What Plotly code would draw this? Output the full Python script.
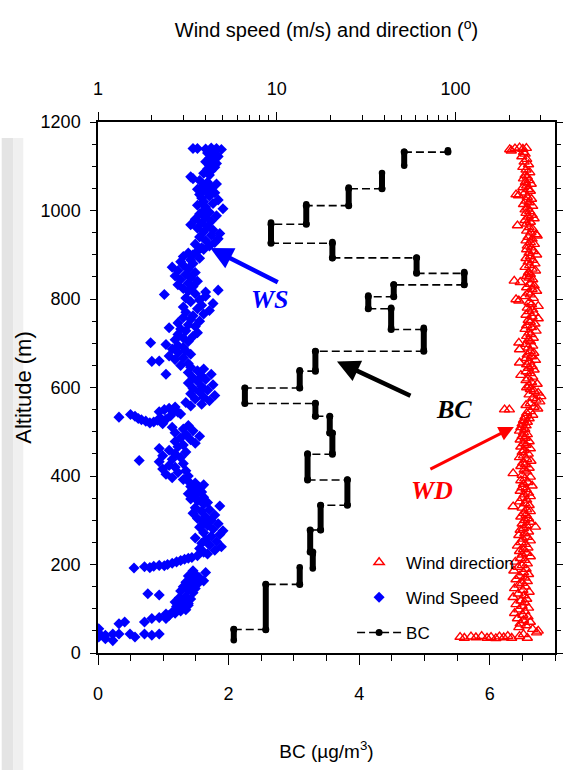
import math
import plotly.graph_objects as go

SANS = "Liberation Sans, Arial, sans-serif"
SERIF = "Liberation Serif, Times New Roman, serif"

# ---------------- BC (bottom axis, ug/m3) ----------------
bc_level = [5.36, 4.69, 4.35, 3.84, 3.19, 2.65, 3.59, 4.88, 5.61, 4.53, 4.14, 4.49, 4.99, 3.33,
            3.09, 2.25, 3.33, 3.55, 3.59, 3.21, 3.82, 3.41, 3.25, 3.29, 3.09, 2.57, 2.08]
bc_alt_low = [1133, 1101, 1050, 1012, 970, 928, 892, 860, 832, 806, 779, 735, 685, 640,
              599, 565, 535, 497, 452, 393, 335, 278, 229, 191, 156, 52, 29]
bc_alt_high = [1136, 1133, 1085, 1052, 1014, 973, 929, 893, 861, 833, 808, 780, 735, 682,
               639, 599, 565, 534, 497, 451, 392, 334, 277, 224, 194, 156, 54]
# altitude of the dashed link between level i and level i+1 (None = no link)
bc_link_alt = [1132, None, 1049, 1011, 969, 926, 893, 858, 832, 805, 778, 731, 682, 637,
               599, 564, 535, 497, 449, 391, 334, 278, 228, None, 155, 53]

# ---------------- Wind speed (top log axis, m/s) ----------------
ws_alt = [55, 36, 45, 40, 32, 43, 28, 66, 43, 70, 43, 36, 43, 70, 40, 78, 43, 80, 78,
          85, 90, 95, 98, 88, 92, 100, 104, 108,
          105, 110, 112, 115, 118, 122, 125, 128, 131, 134, 136, 140, 143, 146, 150, 153, 156, 160,
          163, 166, 170, 174, 178, 182, 186,
          192, 195, 193, 196, 198, 197, 200, 203, 206, 209, 212, 214, 216,
          220, 224, 228, 232, 236, 240, 244, 248, 252, 256, 260, 264, 268, 272, 276, 280, 284, 288,
          292, 296, 300, 304, 308, 312, 316, 320, 324, 328, 332, 336, 340, 344, 348, 352, 356, 360,
          364, 368, 372, 376, 380, 384, 388,
          392, 396, 400, 404, 408, 412, 416, 420, 424, 428, 432, 435, 438, 442, 446, 450, 454, 458,
          462, 466,
          470, 474, 478, 482, 486, 490, 494, 498, 502, 506, 510, 514,
          533, 539, 535, 530, 527, 524, 520, 522, 526, 530, 518, 528, 545, 550, 553, 548, 544, 540,
          536, 556,
          558, 562, 566, 570, 574, 578, 582, 586, 590, 594, 598, 602, 606, 610, 614, 618, 622, 626,
          630, 634, 638, 642, 646,
          630, 650, 654, 659, 660, 663, 667, 671, 675, 679, 683, 687, 691, 695, 697, 701, 704, 708,
          712, 716, 720, 724, 728, 732, 735, 738, 742, 746, 750, 754, 758,
          762, 766, 770, 774, 778, 782, 786, 790, 794, 798, 802, 806, 810, 812, 816, 818, 820,
          824, 828, 832, 836, 840, 844, 848, 852, 856, 860, 864, 868, 872, 876, 880, 884, 888, 892,
          896, 900, 904, 908, 912,
          916, 920, 924, 928, 932, 936, 940, 944, 948, 952, 956, 960, 964, 968, 972, 976, 980, 984,
          988, 992, 996, 1000, 1004,
          1008, 1012, 1016, 1020, 1024, 1028, 1032, 1036, 1040, 1044, 1048, 1052, 1056, 1060, 1064,
          1068, 1072, 1076, 1080, 1084,
          1090, 1094, 1098, 1102, 1106, 1110, 1114, 1118, 1122, 1126, 1130, 1134,
          1140, 1140, 1139, 1141, 1140, 1138]
ws_val = [1.01, 1.01, 1.01, 1.10, 1.10, 1.21, 1.21, 1.31, 1.31, 1.41, 1.51, 1.61, 1.82, 1.82, 2.00,
          2.00, 2.20, 2.20, 2.40,
          2.5, 2.7, 2.9, 3.1, 2.4, 2.6, 2.8, 3.0, 3.2,
          2.75, 2.9, 3.2, 2.7, 3.0, 3.3, 2.85, 3.1, 2.2, 1.9, 3.4, 2.9, 3.2, 3.5, 3.0, 3.3, 3.6, 3.1,
          3.9, 3.4, 3.7, 3.2, 3.5, 4.0, 3.4,
          1.59, 1.82, 1.95, 2.05, 2.2, 2.35, 2.45, 2.6, 2.75, 2.9, 3.05, 3.2, 3.35,
          3.6, 4.1, 3.9, 4.5, 3.7, 4.9, 4.2, 3.8, 4.6, 4.0, 3.5, 4.3, 4.8, 3.9, 5.0, 4.4, 3.7, 4.1,
          4.7, 3.9, 4.3, 3.6, 4.0, 4.5, 3.4, 3.8, 4.2, 3.5, 4.8, 3.9, 4.1, 3.6, 3.3, 3.9, 3.5, 3.2,
          3.8, 3.4, 3.7, 3.3, 3.9, 3.5, 3.2,
          3.0, 2.6, 3.2, 2.4, 2.8, 3.1, 2.3, 2.7, 2.5, 3.0, 2.2, 1.70, 2.6, 2.9, 2.3, 2.7, 3.1, 2.5,
          2.2, 2.8,
          3.0, 3.5, 2.7, 3.3, 2.9, 3.7, 3.1, 2.7, 3.4, 3.0, 2.6, 3.2,
          1.31, 1.52, 1.61, 1.68, 1.75, 1.85, 1.95, 2.05, 2.15, 2.25, 2.3, 2.4, 2.2, 2.35, 2.5, 2.65,
          2.8, 2.9, 2.55, 2.7,
          3.3, 3.8, 3.1, 4.2, 3.5, 3.9, 4.5, 3.3, 3.7, 4.1, 3.4, 3.8, 4.4, 3.2, 3.6, 4.0, 3.4, 3.8,
          4.3, 3.2, 3.6, 3.9, 3.3,
          2.4, 2.9, 3.2, 2.0, 2.2, 2.7, 3.0, 2.5, 3.3, 2.8, 3.1, 2.6, 3.0, 2.8, 2.4, 1.97, 3.2, 2.7,
          3.0, 3.4, 2.8, 3.6, 3.1, 2.9, 2.5, 3.5, 3.2, 2.8, 3.7, 3.3, 3.0,
          3.4, 3.9, 3.1, 4.2, 3.6, 3.0, 3.8, 4.4, 3.3, 3.7, 3.1, 4.0, 2.35, 3.5, 4.0, 3.2, 4.7,
          3.0, 3.4, 2.8, 3.2, 3.6, 2.9, 3.3, 2.7, 3.1, 3.5, 2.8, 3.2, 2.6, 3.0, 3.4, 2.9, 3.3, 3.7,
          3.0, 3.4, 3.2, 3.6, 3.9,
          3.8, 4.2, 3.5, 4.5, 4.0, 4.7, 3.7, 4.3, 4.8, 3.9, 4.4, 3.6, 4.1, 3.3, 3.8, 4.3, 3.5, 4.0,
          4.6, 3.7, 4.2, 3.9, 5.0,
          4.0, 3.6, 4.4, 3.9, 4.7, 3.8, 4.2, 3.7, 4.5, 4.0, 3.6, 4.3, 3.9, 4.6, 4.1,
          3.7, 3.4, 3.3, 4.2, 3.9,
          4.3, 4.1, 4.5, 4.2, 4.6, 4.0, 4.4, 4.2, 4.7, 4.3, 4.1, 4.5,
          3.4, 3.6, 4.0, 4.3, 4.6, 4.9]

# ---------------- Wind direction (top log axis, degrees) ----------------
wd_alt = [1138, 1140, 1142, 1139, 1141, 1135, 1132,
          1128, 1122, 1116, 1110, 1104, 1098, 1092, 1086, 1080,
          1076, 1072, 1068, 1064, 1060, 1056, 1052, 1048, 1044, 1040, 1036, 1034, 1030, 1026, 1022,
          1018, 1014, 1010, 1006, 1002,
          998, 994, 990, 986, 982, 978, 974, 970, 966, 962, 958, 954, 950, 946, 943, 940, 936, 932,
          928, 924, 920,
          916, 912, 908, 904, 900, 896, 892, 888, 884, 880, 876, 872, 868, 864, 860, 856, 852,
          848, 844, 841, 838, 834, 830, 826, 822, 818, 814, 810, 806, 802, 799, 796, 792, 788, 784,
          780, 776,
          772, 768, 764, 760, 756, 752, 748, 744, 740, 736, 732, 728, 724, 720, 716, 712, 708, 704,
          701, 698, 694, 690, 686, 682, 678, 674, 670, 666, 662, 658, 656, 652, 648, 644, 640, 636,
          632, 628, 624, 620, 616, 612, 608, 604, 600,
          596, 592, 588, 584, 580, 576, 572, 568, 564, 560, 556, 552, 550, 550, 546, 542, 538, 534,
          530, 526, 522, 518, 514, 510, 506, 502, 498,
          494, 490, 486, 482, 478, 474, 470, 466, 462, 458, 454, 450, 446, 442, 438, 434, 430, 426,
          422, 418, 414, 410, 406, 402, 398, 394, 390, 386, 382, 378, 374, 370, 366, 362, 358, 354,
          350, 346, 342, 338, 334, 331, 328, 324, 320, 316, 312, 308, 304, 300, 296, 292, 288, 285,
          282, 278, 274, 270, 266, 262, 258, 254, 250, 246, 242, 238, 234, 230, 226, 222, 218, 214,
          210, 206, 202, 198, 194, 190, 186, 182, 178, 174, 170, 166, 162, 158, 154, 150, 146, 142,
          138, 134, 130, 126, 122, 118, 114, 110, 106, 102, 98, 94, 90, 86, 82, 78, 74, 70, 66, 62,
          58, 54, 50, 46, 42, 38, 34,
          36, 34, 37, 35, 38, 34, 36, 33, 37, 35, 38, 34]
wd_val = [201, 215, 228, 238, 249, 205, 240,
          245, 235, 250, 242, 256, 238, 248, 260, 245,
          252, 240, 258, 246, 265, 250, 238, 255, 262, 244, 218, 225, 252, 266, 248,
          258, 240, 270, 253, 245,
          260, 248, 268, 255, 275, 245, 262, 250, 222, 258, 270, 250, 264, 282, 286, 255, 268, 248,
          262, 276, 252,
          265, 250, 272, 258, 284, 262, 248, 270, 255, 278, 260, 245, 268, 280, 256, 262, 250,
          258, 270, 213, 230, 262, 275, 250, 268, 284, 255, 262, 245, 272, 218, 226, 258, 266, 290,
          252, 270,
          258, 275, 248, 268, 290, 255, 262, 278, 250, 266, 245, 282, 258, 264, 250, 272, 256, 262,
          226, 248, 270, 255, 228, 262, 274, 252, 266, 248, 280, 260, 228, 250, 268, 256, 275, 248,
          262, 232, 270, 254, 248, 266, 286, 258, 250,
          262, 275, 290, 258, 300, 270, 282, 296, 262, 248, 275, 288, 188, 200, 262, 250, 270, 245,
          258, 240, 252, 236, 248, 232, 244, 228, 240,
          252, 236, 245, 230, 258, 240, 248, 232, 262, 242, 236, 255, 240, 228, 250, 264, 238, 246,
          232, 258, 242, 250, 210, 236, 262, 244, 232, 254, 240, 268, 236, 248, 230, 256, 242, 262,
          236, 250, 228, 244, 258, 210, 236, 250, 262, 240, 248, 232, 256, 244, 262, 236, 250, 280,
          240, 230, 256, 244, 226, 252, 238, 262, 232, 246, 222, 254, 240, 228, 250, 236, 262, 230,
          244, 216, 252, 236, 224, 248, 212, 240, 256, 228, 244, 218, 252, 236, 226, 246, 214, 238,
          258, 224, 242, 210, 250, 232, 244, 218, 236, 256, 226, 244, 214, 238, 254, 222, 240, 262,
          230, 248, 226, 270, 290, 284, 240, 228, 252,
          106, 112, 122, 130, 140, 150, 158, 168, 176, 186, 196, 206]

# ---------------- tick labels ----------------
bc_ticks = [0, 2, 4, 6]
wind_ticks = [1, 10, 100]
wind_tick_text = ["1", "10", "100"]
wind_minor = [2, 3, 4, 5, 6, 7, 8, 9, 20, 30, 40, 50, 60, 70, 80, 90, 200, 300]
alt_ticks = [0, 200, 400, 600, 800, 1000, 1200]

# ---------------- build BC geometry from the data ----------------
bar_x, bar_y = [], []
for v, lo, hi in zip(bc_level, bc_alt_low, bc_alt_high):
    bar_x += [v, v, None]
    bar_y += [lo, hi, None]
link_x, link_y = [], []
for i, a in enumerate(bc_link_alt):
    if a is None:
        continue
    link_x += [bc_level[i], bc_level[i + 1], None]
    link_y += [a, a, None]

fig = go.Figure()

fig.add_trace(go.Scatter(
    x=wd_val, y=wd_alt, xaxis="x2", yaxis="y", mode="markers", name="Wind direction",
    legendgroup="g1",
    marker=dict(symbol="triangle-up-open", size=9, color="#ff0000", line=dict(width=1.4, color="#ff0000")),
))
fig.add_trace(go.Scatter(
    x=ws_val, y=ws_alt, xaxis="x2", yaxis="y", mode="markers", name="Wind Speed",
    legendgroup="g2",
    marker=dict(symbol="diamond", size=8.5, color="#0000ff", line=dict(width=0)),
))
fig.add_trace(go.Scatter(
    x=link_x, y=link_y, mode="lines+markers", name="BC", legendgroup="g3",
    line=dict(color="black", width=1.6, dash="8px,4px"),
    marker=dict(symbol="circle", size=7, color="black"),
))
fig.add_trace(go.Scatter(
    x=bar_x, y=bar_y, mode="lines+markers", showlegend=False, hoverinfo="skip",
    line=dict(color="black", width=6),
    marker=dict(symbol="circle", size=6.5, color="black"),
))

axis_common = dict(showgrid=False, zeroline=False, showline=True, linecolor="black",
                   linewidth=1.5, ticks="outside", tickcolor="black", tickwidth=1.3,
                   tickfont=dict(family=SANS, size=18, color="black"))

fig.update_layout(
    width=567, height=770,
    margin=dict(l=98, r=4, t=122, b=117),
    paper_bgcolor="white", plot_bgcolor="white",
    font=dict(family=SANS, size=18, color="black"),
    xaxis=dict(**axis_common, range=[0, 7], tickvals=bc_ticks, ticklen=10,
               ticklabelstandoff=14,
               minor=dict(dtick=0.5, ticks="outside", ticklen=6, tickcolor="black", tickwidth=1.3,
                          showgrid=False),
               title=dict(text="BC (\u00b5g/m<sup>3</sup>)", standoff=41,
                          font=dict(family=SANS, size=19, color="black"))),
    xaxis2=dict(**axis_common, type="log", range=[0, math.log10(360)], overlaying="x",
                side="top", anchor="y", tickvals=wind_ticks, ticktext=wind_tick_text,
                ticklen=8, ticklabelstandoff=10,
                minor=dict(tickvals=wind_minor, ticks="outside", ticklen=5, tickcolor="black",
                           tickwidth=1.3, showgrid=False),
                title=dict(text="Wind speed (m/s) and direction (<sup>o</sup>)", standoff=36,
                           font=dict(family=SANS, size=20, color="black"))),
    yaxis=dict(**axis_common, range=[0, 1200], tickvals=alt_ticks, ticklen=6, mirror="ticks",
               ticklabelstandoff=6,
               minor=dict(dtick=50, ticks="outside", ticklen=4, tickcolor="black", tickwidth=1.3,
                          showgrid=False),
               title=dict(text="Altitude (m)", standoff=3,
                          font=dict(family=SANS, size=22, color="black"))),
    legend=dict(x=0.556, y=0.204, xanchor="left", yanchor="top", bgcolor="rgba(0,0,0,0)",
                font=dict(family=SANS, size=17, color="black"), itemwidth=44,
                tracegroupgap=10),
    showlegend=True,
)

# arrows and labels
fig.add_annotation(x=1.72, y=915, ax=69, ay=35, xref="x", yref="y", text="", showarrow=True,
                   arrowhead=2, arrowsize=1, arrowwidth=4.5, arrowcolor="#0000ff")
fig.add_annotation(x=2.64, y=799, xref="x", yref="y", text="<b><i>WS</i></b>", showarrow=False,
                   font=dict(family=SERIF, size=26, color="#0000ff"))
fig.add_annotation(x=3.66, y=659, ax=75, ay=35, xref="x", yref="y", text="", showarrow=True,
                   arrowhead=2, arrowsize=1, arrowwidth=4.5, arrowcolor="black")
fig.add_annotation(x=5.46, y=550, xref="x", yref="y", text="<b><i>BC</i></b>", showarrow=False,
                   font=dict(family=SERIF, size=26, color="black"))
fig.add_annotation(x=6.37, y=511, ax=-85, ay=43, xref="x", yref="y", text="", showarrow=True,
                   arrowhead=2, arrowsize=1, arrowwidth=3, arrowcolor="#ff0000")
fig.add_annotation(x=5.12, y=368, xref="x", yref="y", text="<b><i>WD</i></b>", showarrow=False,
                   font=dict(family=SERIF, size=26, color="#ff0000"))

# light grey slide strip on the left edge
fig.add_shape(type="rect", xref="paper", yref="paper", x0=-98 / 465, x1=-86 / 465,
              y0=-117 / 530, y1=0.97, fillcolor="#e4e4e4", line=dict(width=0),
              layer="below")
fig.add_shape(type="rect", xref="paper", yref="paper", x0=-86 / 465, x1=-76 / 465,
              y0=-117 / 530, y1=0.97, fillcolor="#f0f0f0", line=dict(width=0),
              layer="below")

fig.write_html("out.html")
